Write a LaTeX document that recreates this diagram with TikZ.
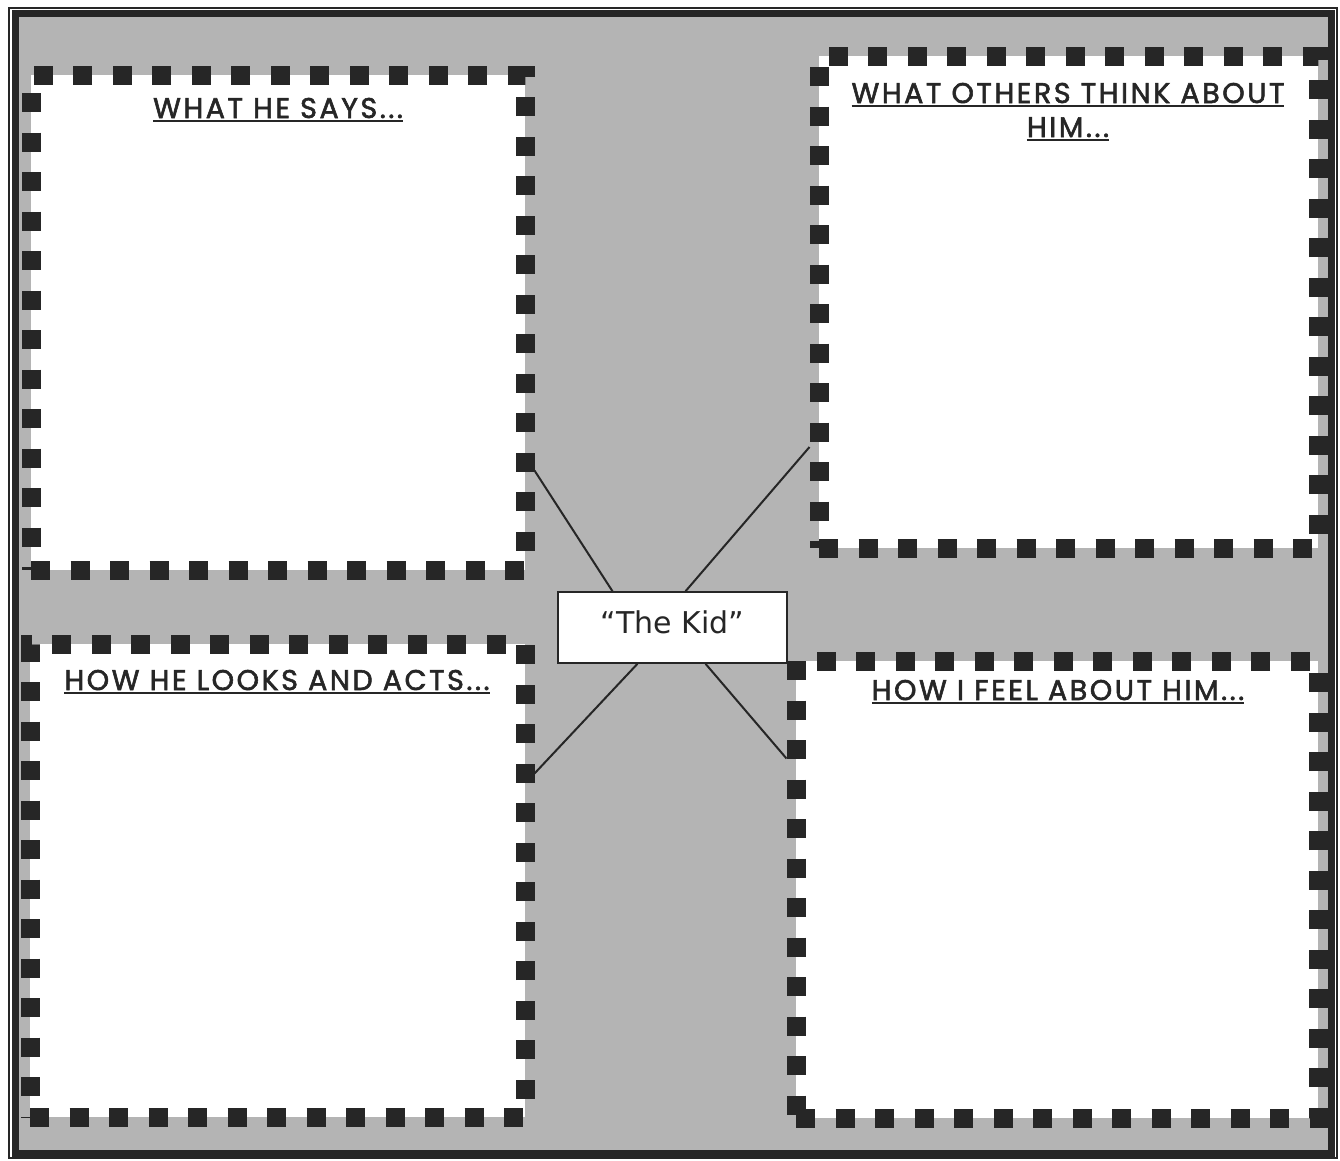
\documentclass[tikz,border=0pt]{standalone}
\usepackage{fontspec}
\setmainfont{DejaVu Sans}
\newfontfamily\headfont[LetterSpace=9,FakeBold=2]{Poppins}
\usetikzlibrary{calc}
\definecolor{bggray}{HTML}{B4B4B4}
\definecolor{ink}{HTML}{262626}
\newcommand\ulhead[1]{\setbox0\hbox{#1}\rlap{\rule[-4pt]{\wd0}{2pt}}\box0}
\begin{document}
\begin{tikzpicture}[x=1pt,y=-1pt,
  panel/.style={draw=ink, fill=white, line width=19pt, dash pattern=on 19pt off 20.5pt, rectangle, inner sep=0pt},
  head/.style={font=\headfont\fontsize{28.5}{34}\selectfont, text=ink, inner sep=0pt, anchor=base},
  link/.style={draw=ink, line width=2pt},
]
\useasboundingbox (0,0) rectangle (1340,1160);
\fill[white] (0,0) rectangle (1340,1160);
\fill[bggray] (15,13) rectangle (1331,1153);
\draw[ink, line width=1.5pt] (9,8) rectangle (1337,1158);
\draw[ink, line width=7pt] (15.5,13.5) rectangle (1331,1153);

\node[panel, minimum width=494pt, minimum height=495pt] (tl) at (278,322.5) {};
\node[panel, minimum width=499pt, minimum height=492pt] (tr) at (1068.5,302) {};
\node[panel, minimum width=495pt, minimum height=473pt] (bl) at (277.5,880.5) {};
\node[panel, minimum width=522pt, minimum height=457pt] (br) at (1057,889.5) {};

\node[head] (h1) at (278,118) {\ulhead{WHAT HE SAYS...}};
\node[head] (h2a) at (1068,103) {\ulhead{WHAT OTHERS THINK ABOUT}};
\node[head] (h2b) at (1068,137) {\ulhead{HIM...}};
\node[head] (h3) at (277,690) {\ulhead{HOW HE LOOKS AND ACTS...}};
\node[head] (h4) at (1058,700) {\ulhead{HOW I FEEL ABOUT HIM...}};

\node[draw=ink, fill=white, line width=1.5pt, minimum width=229pt, minimum height=71pt, inner sep=0pt, text=ink, font=\fontsize{30}{36}\selectfont] (kid) at (672.5,627.5) {\raisebox{5.5pt}[\height][0pt]{“The Kid”}};

\draw[link] ($(kid.north)+(-60,0)$) -- ($(tl.east)+(0,148)$);
\draw[link] ($(kid.north)+(13,0)$) -- ($(tr.west)+(0,145)$);
\draw[link] ($(kid.south)+(-35,0)$) -- ($(bl.east)+(0,-107)$);
\draw[link] ($(kid.south)+(33,0)$) -- ($(br.west)+(0,-131)$);
\end{tikzpicture}
\end{document}
